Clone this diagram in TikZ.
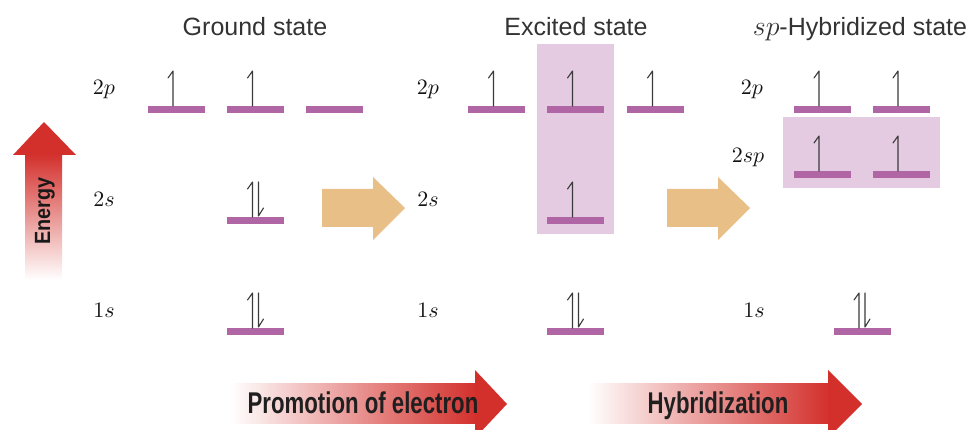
\documentclass[tikz,border=0pt]{standalone}
\usepackage{graphicx}
\usepackage{fontspec}
\setmainfont{Liberation Sans}
\newfontfamily\condfont{Liberation Sans}[FakeStretch=0.74]
\newfontfamily\energyfont{Liberation Sans}[FakeStretch=0.9]
\definecolor{lvl}{HTML}{B065A5}
\definecolor{hl}{HTML}{E4CBE2}
\definecolor{org}{HTML}{E9BF88}
\definecolor{redA}{HTML}{D3302C}
\definecolor{midred}{HTML}{E0866A}
\definecolor{txt}{HTML}{333333}
\definecolor{spincol}{HTML}{3A3A3A}
\newcommand\obar[2]{\fill[lvl] (#1-28.5,#2) rectangle (#1+28.5,#2+7);}
\newcommand\eup[2]{\draw[spin] (#1-8,#2-28) -- (#1-3,#2-35) -- (#1-3,#2);}
\newcommand\edown[2]{\draw[spin] (#1+3,#2-35) -- (#1+3,#2-1) -- (#1+8,#2-9);}
\newcommand\orblab[1]{\scalebox{2.2}{$#1$}}
\begin{document}
\begin{tikzpicture}[x=1pt,y=-1pt,
  title/.style={anchor=base,inner sep=0pt,text=txt,font=\fontsize{25}{30}\selectfont},
  lab/.style={anchor=base,inner sep=0pt,text=black!92},
  spin/.style={draw=spincol,line width=1.1pt,line cap=round,line join=round},
  arrtext/.style={anchor=base,inner sep=0pt,text=black!88,font=\condfont\bfseries\fontsize{30}{34}\selectfont}]
\useasboundingbox (0,0) rectangle (977,430);
\clip (0,0) rectangle (977,430);
% highlight boxes
\fill[hl] (537,44) rectangle (614,234);
\fill[hl] (783,117) rectangle (940,188);
% titles
\node[title] (t1) at (255,36) {Ground state};
\node[title] (t2) at (576,36) {Excited state};
\node[title] (t3) at (860,36) {\scalebox{1.12}{$sp$}-Hybridized state};
% energy arrow
\shade[top color=redA,middle color=midred,bottom color=white] (25,154) rectangle (62,280);
\fill[redA] (13,155) -- (44,122) -- (76,155) -- cycle;
\node[rotate=90,inner sep=0pt,text=black!90,font=\energyfont\bfseries\fontsize{22}{24}\selectfont] (en) at (45,211) {Energy};
% ground state
\node[lab] (g2p) at (104,95) {\orblab{2p}};
\node[lab] (g2s) at (104,207) {\orblab{2s}};
\node[lab] (g1s) at (104,317) {\orblab{1s}};
\obar{176}{106}\obar{255.5}{106}\obar{334.5}{106}
\eup{176}{106}\eup{255.5}{106}
\obar{255.5}{217}\eup{255.5}{217}\edown{255.5}{217}
\obar{255.5}{328}\eup{255.5}{328}\edown{255.5}{328}
% excited state
\node[lab] (e2p) at (428,95) {\orblab{2p}};
\node[lab] (e2s) at (428,207) {\orblab{2s}};
\node[lab] (e1s) at (428,317) {\orblab{1s}};
\obar{496.5}{106}\obar{575.5}{106}\obar{655.5}{106}
\eup{496.5}{106}\eup{575.5}{106}\eup{655.5}{106}
\obar{575.5}{217}\eup{575.5}{217}
\obar{575.5}{328}\eup{575.5}{328}\edown{575.5}{328}
% hybridized state
\node[lab] (h2p) at (752,95) {\orblab{2p}};
\node[lab] (h2sp) at (748,163) {\orblab{2sp}};
\node[lab] (h1s) at (754,317) {\orblab{1s}};
\obar{822}{106}\obar{901}{106}
\eup{822}{106}\eup{901}{106}
\obar{822}{171}\obar{901}{171}
\eup{822}{171}\eup{901}{171}
\obar{862}{328}\eup{862}{328}\edown{862}{328}
% orange block arrows
\fill[org] (322,189) -- (373,189) -- (373,177) -- (405,208) -- (373,240) -- (373,227) -- (322,227) -- cycle;
\fill[org] (667,189) -- (718,189) -- (718,177) -- (750,208) -- (718,240) -- (718,227) -- (667,227) -- cycle;
% bottom arrows
\shade[left color=white,middle color=midred,right color=redA] (230,383) rectangle (476,423);
\fill[redA] (475,370) -- (507,404) -- (475,438) -- cycle;
\node[arrtext] (pe) at (363,413) {Promotion of electron};
\shade[left color=white,middle color=midred,right color=redA] (588,383) rectangle (829,423);
\fill[redA] (828,370) -- (862,404) -- (828,438) -- cycle;
\node[arrtext] (hy) at (718,413) {Hybridization};
\end{tikzpicture}
\end{document}
